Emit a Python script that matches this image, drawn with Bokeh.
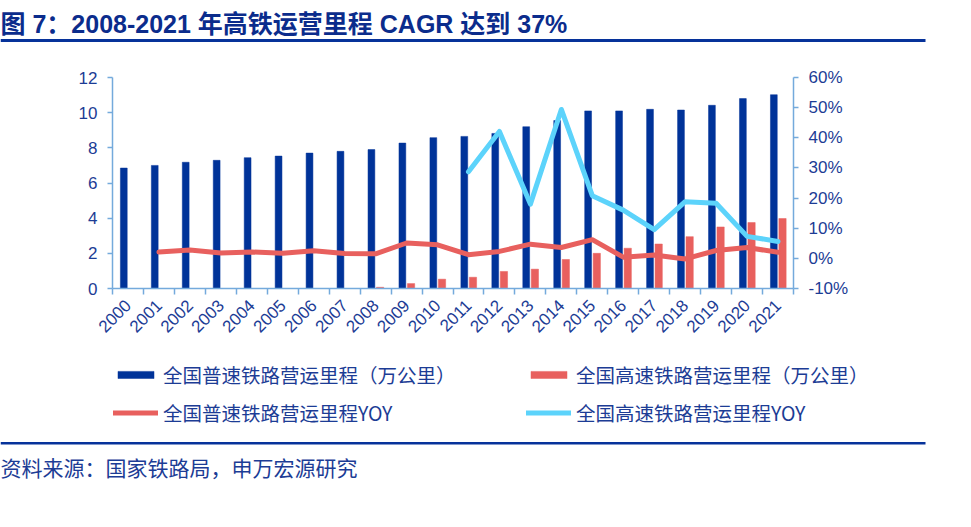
import math
from bokeh.plotting import figure
from bokeh.models import (Range1d, LinearAxis, FixedTicker, PrintfTickFormatter, Legend,
                          LegendItem, Label, BoxAnnotation, ColumnDataSource)
from bokeh.transform import dodge
from bokeh.embed import file_html
from bokeh.resources import INLINE

# ---------------- data ----------------
years = ["2000", "2001", "2002", "2003", "2004", "2005", "2006", "2007", "2008", "2009", "2010",
         "2011", "2012", "2013", "2014", "2015", "2016", "2017", "2018", "2019", "2020", "2021"]
conv_km = [6.85, 7.00, 7.18, 7.29, 7.44, 7.53, 7.70, 7.80, 7.90, 8.27, 8.58,
           8.65, 8.82, 9.20, 9.55, 10.10, 10.10, 10.19, 10.15, 10.42, 10.80, 11.02]
hsr_years = ["2008", "2009", "2010", "2011", "2012", "2013", "2014", "2015", "2016", "2017",
             "2018", "2019", "2020", "2021"]
hsr_km = [0.07, 0.28, 0.53, 0.64, 0.97, 1.10, 1.65, 2.00, 2.29, 2.53, 2.95, 3.50, 3.75, 3.98]
conv_yoy_years = ["2001", "2002", "2003", "2004", "2005", "2006", "2007", "2008", "2009", "2010",
                  "2011", "2012", "2013", "2014", "2015", "2016", "2017", "2018", "2019", "2020", "2021"]
conv_yoy = [2.1, 2.8, 1.8, 2.1, 1.7, 2.5, 1.6, 1.5, 5.1, 4.5,
            1.2, 2.3, 4.7, 3.6, 6.2, 0.4, 1.1, -0.2, 2.6, 3.6, 2.0]
hsr_yoy_years = ["2011", "2012", "2013", "2014", "2015", "2016", "2017", "2018", "2019", "2020", "2021"]
hsr_yoy = [28.7, 42.1, 18.0, 49.4, 20.8, 16.0, 9.5, 18.8, 18.3, 7.3, 5.6]
left_ticks = [0, 2, 4, 6, 8, 10, 12]
right_ticks = [-10, 0, 10, 20, 30, 40, 50, 60]

title_text = "图 7：2008-2021 年高铁运营里程 CAGR 达到 37%"
source_text = "资料来源：国家铁路局，申万宏源研究"
legend_labels = ["全国普速铁路营运里程（万公里）", "全国普速铁路营运里程YOY",
                 "全国高速铁路营运里程（万公里）", "全国高速铁路营运里程YOY"]

# ---------------- style / page geometry ----------------
BLUE = "#003399"
RED = "#E8605E"
CYAN = "#5CD3FB"
AXIS = "#74AADC"
TXT = "#1C3C95"
TITLE = "#0B2C8C"
RULE = "#06329A"
LATIN = "Liberation Sans, Noto Sans CJK SC"
CJK = "Noto Sans CJK SC"

W, H = 971, 527
PLOT_L, PLOT_R, PLOT_T, PLOT_B = 112, 793, 77, 288   # plot area in page pixels
NCAT = len(years)
y_lo, y_hi = left_ticks[0], left_ticks[-1]
p_lo, p_hi = right_ticks[0], right_ticks[-1]

# whole canvas is the frame; ranges chosen so the plot area lands at PLOT_*
xs = (PLOT_R - PLOT_L) / NCAT
x0 = -0.5 - PLOT_L / xs
x1 = NCAT - 0.5 + (W - PLOT_R) / xs
ys = (PLOT_B - PLOT_T) / (y_hi - y_lo)
yr0 = y_lo - (H - PLOT_B) / ys
yr1 = y_hi + PLOT_T / ys
ps = (PLOT_B - PLOT_T) / (p_hi - p_lo)
pr0 = p_lo - (H - PLOT_B) / ps
pr1 = p_hi + PLOT_T / ps

idx = {y: i for i, y in enumerate(years)}

p = figure(width=W, height=H, output_backend="svg", toolbar_location=None,
           x_range=Range1d(x0, x1), y_range=Range1d(yr0, yr1),
           x_axis_location=None, y_axis_location=None, min_border=0)
p.outline_line_color = None
p.xgrid.visible = False
p.ygrid.visible = False
p.extra_y_ranges = {"pct": Range1d(pr0, pr1)}

def style_axis(ax):
    ax.axis_line_color = AXIS
    ax.axis_line_width = 1.5
    ax.major_tick_line_color = AXIS
    ax.major_tick_line_width = 1.5
    ax.major_tick_out = 5
    ax.major_tick_in = 0
    ax.minor_tick_line_color = None
    ax.major_label_text_color = TXT
    ax.major_label_text_font = LATIN
    ax.major_label_text_font_size = "17px"

xaxis = LinearAxis(ticker=FixedTicker(ticks=list(range(NCAT)),
                                      minor_ticks=[i - 0.5 for i in range(NCAT + 1)]),
                   major_label_overrides={i: y for i, y in enumerate(years)},
                   fixed_location=y_lo, bounds=(-0.5, NCAT - 0.5))
style_axis(xaxis)
xaxis.major_tick_line_color = None
xaxis.minor_tick_line_color = AXIS
xaxis.minor_tick_line_width = 1.5
xaxis.minor_tick_out = 6
xaxis.minor_tick_in = 0
xaxis.major_label_orientation = math.pi / 4
xaxis.major_label_text_font_size = "17px"
xaxis.major_label_standoff = 8
p.add_layout(xaxis, "below")

yleft = LinearAxis(ticker=FixedTicker(ticks=left_ticks), fixed_location=-0.5,
                   bounds=(y_lo, y_hi))
style_axis(yleft)
yleft.major_label_standoff = 10
p.add_layout(yleft, "left")

yright = LinearAxis(y_range_name="pct", ticker=FixedTicker(ticks=right_ticks),
                    formatter=PrintfTickFormatter(format="%d%%"),
                    fixed_location=NCAT - 0.5, bounds=(p_lo, p_hi))
style_axis(yright)
yright.major_label_standoff = 10
p.add_layout(yright, "right")

# ---------------- glyphs ----------------
src_conv = ColumnDataSource(dict(x=[idx[y] for y in years], top=conv_km))
src_hsr = ColumnDataSource(dict(x=[idx[y] for y in hsr_years], top=hsr_km))
src_cy = ColumnDataSource(dict(x=[idx[y] for y in conv_yoy_years], y=conv_yoy))
src_hy = ColumnDataSource(dict(x=[idx[y] for y in hsr_yoy_years], y=hsr_yoy))

r_conv = p.vbar(x=dodge("x", -0.135), top="top", bottom=0, width=0.22, source=src_conv,
                fill_color=BLUE, line_color=BLUE, line_width=0.5)
r_hsr = p.vbar(x=dodge("x", 0.145), top="top", bottom=0, width=0.235, source=src_hsr,
               fill_color=RED, line_color=RED, line_width=0.5)
l_conv = p.line(x="x", y="y", source=src_cy, y_range_name="pct", line_color=RED,
                line_width=5, line_join="round", line_cap="round")
l_hsr = p.line(x="x", y="y", source=src_hy, y_range_name="pct", line_color=CYAN,
               line_width=5, line_join="round", line_cap="round")

legend = Legend(items=[LegendItem(label=legend_labels[0], renderers=[r_conv]),
                       LegendItem(label=legend_labels[1], renderers=[l_conv]),
                       LegendItem(label=legend_labels[2], renderers=[r_hsr]),
                       LegendItem(label=legend_labels[3], renderers=[l_hsr])],
                location=(113, H - 426.5), orientation="vertical", ncols=2,
                glyph_width=45, glyph_height=9, label_standoff=5, label_width=354,
                label_height=20, spacing=9, padding=0, margin=0,
                border_line_color=None, background_fill_alpha=0,
                label_text_font=CJK, label_text_font_size="19.5px",
                label_text_color=TXT)
p.add_layout(legend)

# ---------------- title, rules, source (screen units from bottom-left) ----------------
p.add_layout(Label(x=0, y=H - 23.5, x_units="screen", y_units="screen", text=title_text,
                   text_font=LATIN, text_font_size="25px", text_font_style="bold",
                   text_color=TITLE, text_baseline="middle", text_align="left"))
p.add_layout(BoxAnnotation(left=0, right=925, bottom=H - 41.5, top=H - 38.5,
                           left_units="screen", right_units="screen",
                           bottom_units="screen", top_units="screen",
                           fill_color=RULE, fill_alpha=1, line_color=None))
p.add_layout(BoxAnnotation(left=0, right=925, bottom=H - 444, top=H - 441.5,
                           left_units="screen", right_units="screen",
                           bottom_units="screen", top_units="screen",
                           fill_color=RULE, fill_alpha=1, line_color=None))
p.add_layout(Label(x=0, y=H - 466.5, x_units="screen", y_units="screen", text=source_text,
                   text_font=CJK, text_font_size="21px",
                   text_color=TXT, text_baseline="middle", text_align="left"))

open("out.html", "w").write(file_html(p, INLINE))
